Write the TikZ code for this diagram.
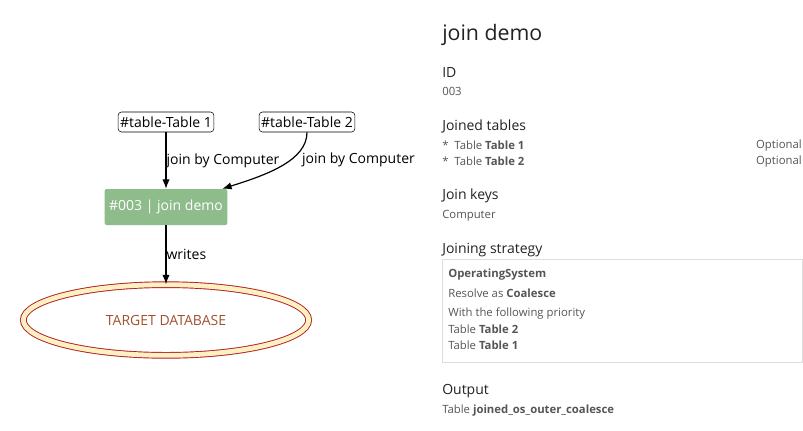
\documentclass[tikz,border=0pt]{standalone}
\usepackage{fontspec}
\setmainfont{Open Sans}
\usetikzlibrary{arrows.meta,positioning,shapes.geometric}

\definecolor{taskgreen}{HTML}{8FBC8B}
\definecolor{dbred}{HTML}{B22222}
\definecolor{dbtext}{HTML}{A0522D}
\definecolor{dbcream}{HTML}{FFF0C4}
\definecolor{infogray}{HTML}{555555}
\definecolor{headgray}{HTML}{222222}
\definecolor{boxgray}{HTML}{DDDDDD}

\begin{document}
\begin{tikzpicture}[
  x=0.75pt, y=-0.75pt,
  every node/.style={font=\fontsize{10.5}{12}\selectfont},
  source/.style={rectangle, draw=black, rounded corners=2.5pt, inner sep=1.5pt, minimum height=15pt, fill=white},
  task/.style={rectangle, fill=taskgreen, rounded corners=1.5pt, text=white, minimum width=92pt, minimum height=27pt},
  target/.style={ellipse, draw=dbred, line width=0.7pt, double=dbcream, double distance=3.6pt, fill=white, minimum width=214pt, minimum height=53pt, text=dbtext},
  arrow/.style={-{Latex[length=7pt, width=5.5pt]}, line width=0.9pt},
  edgelabel/.style={anchor=west, inner sep=0pt},
  title/.style={anchor=west, inner sep=0pt, yshift=-1.2pt, text=headgray, font=\fontsize{16}{19}\selectfont},
  heading/.style={anchor=west, inner sep=0pt, yshift=-1.2pt, text=headgray, font=\fontsize{10.5}{12}\selectfont},
  detail/.style={anchor=west, inner sep=0pt, yshift=-1.2pt, text=infogray, font=\fontsize{8.5}{10}\selectfont}
]
\useasboundingbox (0,0) rectangle (803,430);

% --- GRAPH ---
\node[source] (t1) at (166,122) {\#table-Table 1};
\node[source] (t2) at (307,122) {\#table-Table 2};
\node[task] (join) at (166,207) {\#003 | join demo};
\node[target] (db) at (166,320) {TARGET DATABASE};

\draw[arrow] (t1.south) -- (join.north)
      node[edgelabel, pos=0.5] {join by Computer};
\draw[arrow] (t2.south) .. controls +(0,28) and +(45,-14) .. ([xshift=-4pt]join.north east)
      node[edgelabel, pos=0.4, xshift=8.5pt] {join by Computer};
\draw[arrow] (join.south) -- (db.north)
      node[edgelabel, pos=0.5] {writes};

% --- DETAILS PANEL ---
\node[title] (name) at (442,33) {join demo};

\node[heading] (idh) at (442,71) {ID};
\node[detail] (idv) at (442,90) {003};

\node[heading] (tabh) at (442,125) {Joined tables};
\node[detail] (tab1) at (442,144) {*\ \ Table \textbf{Table 1}};
\node[detail] (tab2) at (442,160) {*\ \ Table \textbf{Table 2}};
\node[detail, anchor=east] (opt1) at (802,144) {Optional};
\node[detail, anchor=east] (opt2) at (802,160) {Optional};

\node[heading] (keyh) at (442,194) {Join keys};
\node[detail] (keyv) at (442,214) {Computer};

\node[heading] (strh) at (442,248) {Joining strategy};
\draw[boxgray] (442,259) rectangle (802,362);
\node[detail] (col) at (448,273) {\textbf{OperatingSystem}};
\node[detail] (res) at (448,292) {Resolve as \textbf{Coalesce}};
\node[detail] (pri) at (448,312) {With the following priority};
\node[detail] (pri1) at (448,328) {Table \textbf{Table 2}};
\node[detail] (pri2) at (448,344) {Table \textbf{Table 1}};

\node[heading] (outh) at (442,389) {Output};
\node[detail] (outv) at (442,409) {Table \textbf{joined\_os\_outer\_coalesce}};

\end{tikzpicture}
\end{document}
